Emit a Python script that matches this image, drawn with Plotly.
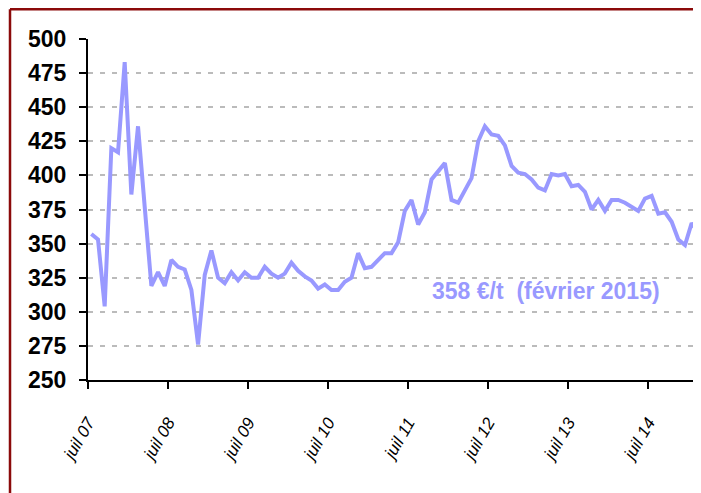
import plotly.graph_objects as go

# Monthly prices (€/t), juillet 2007 -> février 2015
prices = [357, 353, 304, 420, 417, 483, 386, 436, 377, 319,
          329, 319, 338, 333, 331, 316, 276, 327, 345, 325,
          321, 329, 323, 329, 325, 325, 333, 328, 325, 328,
          336, 330, 326, 323, 317, 320, 316, 316, 322, 325,
          343, 332, 333, 338, 343, 343, 351, 374, 382, 364,
          373, 397, 403, 409, 382, 380, 389, 398, 425, 436,
          430, 429, 422, 407, 402, 401, 397, 391, 389, 401,
          400, 401, 392, 393, 388, 375, 382, 374, 382, 382,
          380, 377, 374, 383, 385, 372, 373, 366, 353, 349,
          365, 358]
month_index = list(range(len(prices)))  # 0 = juillet 2007
tick_months = [0, 12, 24, 36, 48, 60, 72, 84]
tick_labels = ["juil 07", "juil 08", "juil 09", "juil 10",
               "juil 11", "juil 12", "juil 13", "juil 14"]
y_ticks = [250, 275, 300, 325, 350, 375, 400, 425, 450, 475, 500]
note_text = "358 €/t \u00a0(février 2015)"

LINE_COLOR = "#9999FF"
FRAME_COLOR = "#8B0A0A"
FONT = "Liberation Sans, Arial, sans-serif"

fig = go.Figure()
fig.add_trace(go.Scatter(
    x=[m + 0.5 for m in month_index],
    y=prices,
    mode="lines",
    line=dict(color=LINE_COLOR, width=4),
    hoverinfo="skip",
))

fig.add_annotation(
    x=68.7, y=315.5, xref="x", yref="y",
    text=note_text, showarrow=False,
    font=dict(family=FONT, size=23, color=LINE_COLOR, weight="bold"),
    xanchor="center", yanchor="middle",
)

# dark red frame (top and left edges visible)
fig.add_shape(type="line", xref="paper", yref="paper",
              x0=-0.1285, x1=1.02, y0=1.0872, y1=1.0872,
              line=dict(color=FRAME_COLOR, width=2.5), layer="above")
fig.add_shape(type="line", xref="paper", yref="paper",
              x0=-0.1285, x1=-0.1285, y0=-0.4, y1=1.0872,
              line=dict(color=FRAME_COLOR, width=2.5), layer="above")

fig.update_layout(
    width=693, height=485,
    margin=dict(l=80, r=6, t=31, b=113),
    paper_bgcolor="white", plot_bgcolor="white",
    showlegend=False,
    font=dict(family=FONT, color="black"),
)

fig.update_xaxes(
    range=[0, 91],
    tickmode="array", tickvals=tick_months, ticktext=tick_labels,
    tickangle=-60,
    tickfont=dict(family=FONT, size=17, style="italic", color="black"),
    ticks="outside", ticklen=7, tickwidth=2, tickcolor="black",
    ticklabelstandoff=17,
    showline=True, linecolor="black", linewidth=2,
    showgrid=False, zeroline=False,
)

fig.update_yaxes(
    range=[250, 500],
    tickmode="array", tickvals=y_ticks,
    tickfont=dict(family=FONT, size=23, weight="bold", color="black"),
    ticks="outside", ticklen=7, tickwidth=2, tickcolor="black",
    ticklabelstandoff=8,
    showline=True, linecolor="black", linewidth=2,
    showgrid=True, gridcolor="#BBBBBB", gridwidth=2, griddash="5px,7px",
    zeroline=False,
)

fig.write_html("out.html")
